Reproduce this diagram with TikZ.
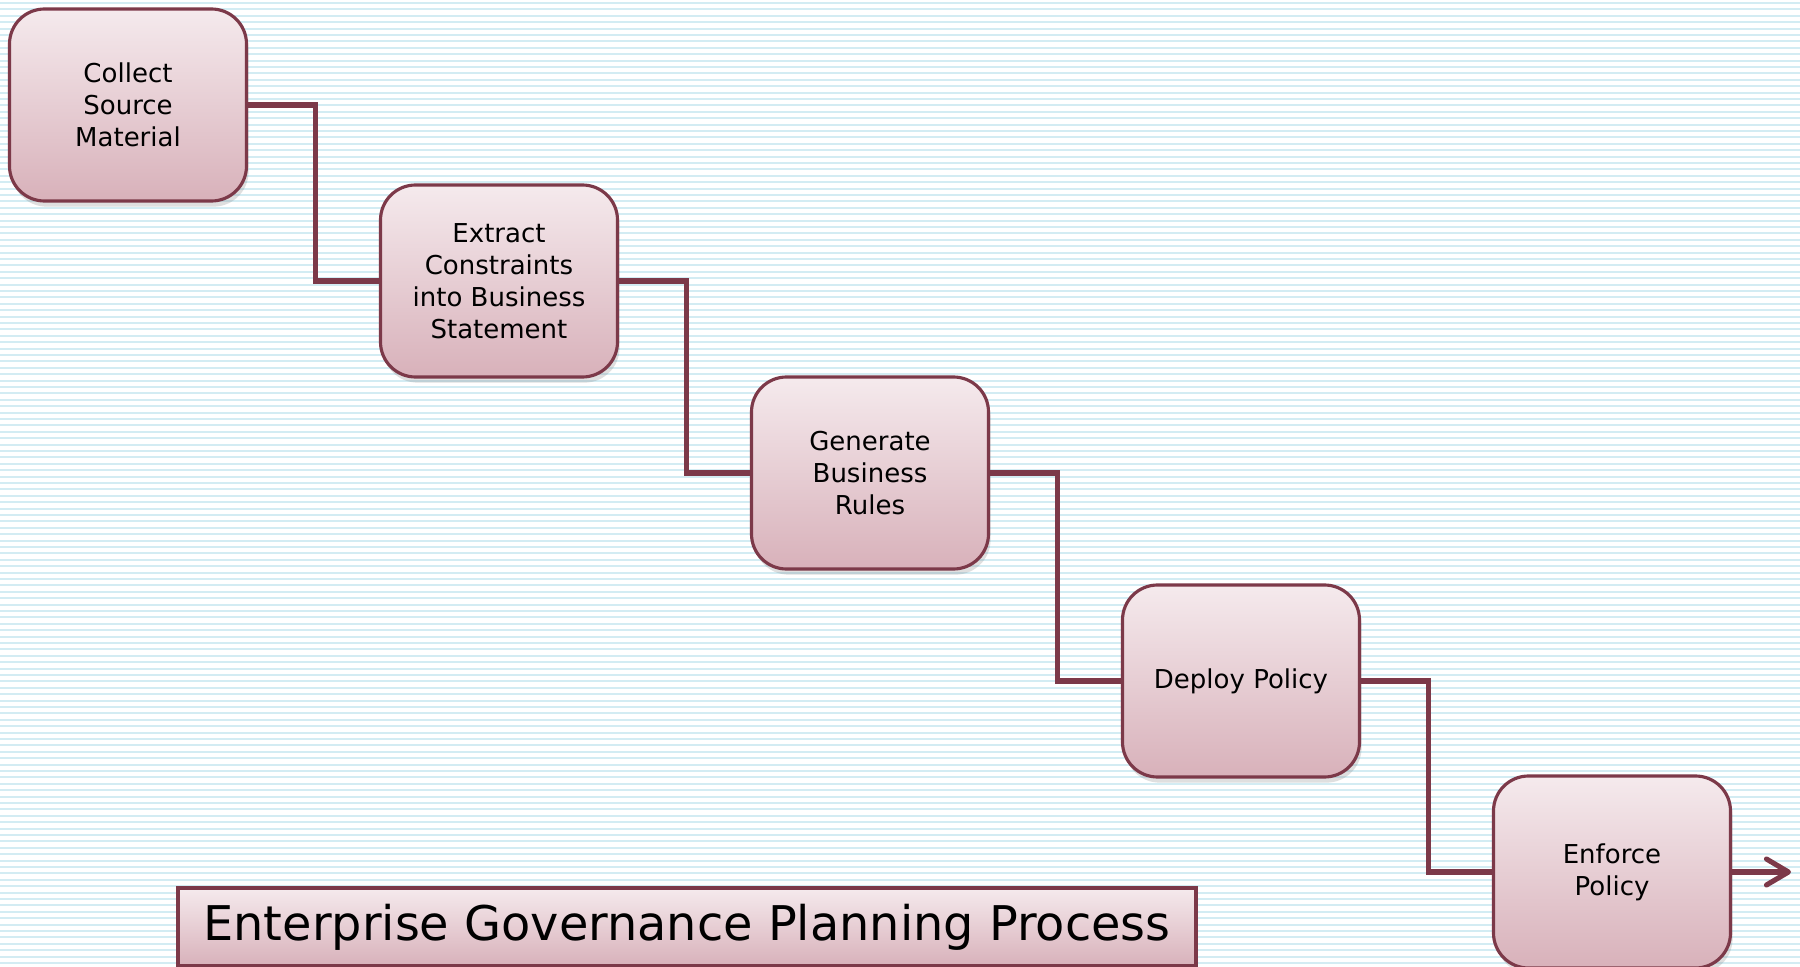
\documentclass[tikz,border=0pt]{standalone}
\usepackage{fontspec}
\setmainfont{DejaVu Sans}
\usepackage{tikz}
\usetikzlibrary{arrows.meta, shadows, positioning, calc}

\definecolor{rule}{HTML}{D3ECF3}
\definecolor{boxtop}{HTML}{F5EAED}
\definecolor{boxbot}{HTML}{D8B1BA}
\definecolor{wine}{HTML}{7C3949}

\begin{document}
\begin{tikzpicture}[>=stealth,
    stage/.style={draw=wine, line width=0.9pt, rounded corners=0.35cm,
      top color=boxtop, bottom color=boxbot,
      minimum width=2.37cm, minimum height=1.92cm, align=center,
      font=\fontsize{7.4}{9.1}\selectfont,
      drop shadow={opacity=0.25, shadow xshift=0.6pt, shadow yshift=-1.6pt}},
    flow/.style={draw=wine, line width=1.45pt},
    banner/.style={draw=wine, line width=0.9pt,
      top color=boxtop, bottom color=boxbot,
      minimum width=10.18cm, minimum height=0.78cm,
      font=\fontsize{13.6}{16}\selectfont,
      drop shadow={opacity=0.25, shadow xshift=0.6pt, shadow yshift=-1.6pt}}]

      \useasboundingbox (0, 0) rectangle (18, -9.67);
      \fill[white] (0, 0) rectangle (18, -9.67);
      \foreach \y in {0.03, 0.094, ..., 9.67}
        \draw[rule, line width=0.55pt] (0, -\y) -- (18, -\y);

      \node[stage] (collect) at (1.28, -1.05) {Collect\\Source\\Material};
      \node[stage] (extract) at (4.99, -2.81) {Extract\\Constraints\\into Business\\Statement};
      \node[stage] (generate) at (8.70, -4.73) {Generate\\Business\\Rules};
      \node[stage] (deploy) at (12.41, -6.81) {Deploy Policy};
      \node[stage] (enforce) at (16.12, -8.72) {Enforce\\Policy};

      \node[banner] (title) at (6.87, -9.27) {Enterprise Governance Planning Process};

      \draw[flow] (collect.east) -- ++(0.67, 0) |- (extract.west);
      \draw[flow] (extract.east) -- ++(0.67, 0) |- (generate.west);
      \draw[flow] (generate.east) -- ++(0.67, 0) |- (deploy.west);
      \draw[flow] (deploy.east) -- ++(0.67, 0) |- (enforce.west);

      \coordinate (out) at (17.91, -8.72);
      \draw[flow, -{Straight Barb[length=2.2mm, width=2.6mm, round]}] (enforce.east) -- (out);
    \end{tikzpicture}
\end{document}
